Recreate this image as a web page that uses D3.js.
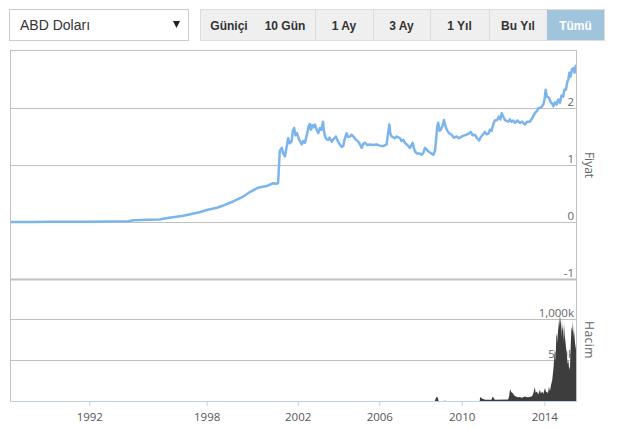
<!DOCTYPE html>
<html><head><meta charset="utf-8">
<script src="https://cdn.jsdelivr.net/npm/d3@7"></script>
<style>body{margin:0;background:#fff}svg{display:block}</style>
</head><body>
<script>
// ---- data ----
const priceDates = ["1988-01-01","1989-01-01","1990-01-01","1991-01-01","1992-01-01","1993-01-01","1994-01-01","1994-04-10","1995-01-01","1995-08-01","1996-01-01","1996-10-20","1997-08-20","1998-01-01","1998-06-15","1998-09-01","1999-03-01","1999-08-01","1999-12-01","2000-04-01","2000-08-20","2000-12-01","2001-01-15","2001-02-20",
"2001-03-05","2001-03-20","2001-04-20","2001-05-15","2001-06-10","2001-07-05","2001-08-01","2001-08-25","2001-09-25","2001-10-15","2001-11-05","2001-11-25","2001-12-20","2002-01-25","2002-03-15","2002-04-10","2002-05-10","2002-06-20","2002-07-15","2002-08-05","2002-08-25","2002-09-20","2002-10-10","2002-11-05","2002-12-05",
"2003-01-05","2003-02-05","2003-03-01","2003-03-30","2003-04-15","2003-05-05","2003-06-01","2003-07-01","2003-07-25","2003-09-01","2003-10-10","2003-11-15","2003-12-20","2004-01-25","2004-02-25","2004-03-25","2004-04-20","2004-05-25","2004-06-20","2004-07-25","2004-08-20","2004-09-25","2004-11-01","2004-12-20",
"2005-01-20","2005-02-20","2005-03-20","2005-04-20","2005-06-01","2005-07-15","2005-09-10","2005-11-15","2006-01-10","2006-03-10","2006-05-10","2006-06-05","2006-06-28","2006-07-15","2006-08-08","2006-10-01","2006-11-05","2007-01-01","2007-02-01","2007-03-01","2007-04-01","2007-05-15","2007-06-28","2007-07-25","2007-08-15","2007-09-05","2007-09-25","2007-11-01","2007-12-25",
"2008-01-20","2008-02-20","2008-03-20","2008-04-20","2008-05-15","2008-06-15","2008-07-15","2008-08-15","2008-09-15","2008-10-01","2008-10-25","2008-11-10","2008-12-05","2008-12-25","2009-01-25","2009-02-20","2009-03-15","2009-04-10","2009-05-20","2009-07-05","2009-08-15","2009-10-05","2009-11-15",
"2010-01-01","2010-02-15","2010-03-28","2010-05-01","2010-06-10","2010-07-15","2010-08-22","2010-10-01","2010-11-05","2010-12-10","2011-01-08","2011-02-15","2011-03-18","2011-04-20","2011-05-15","2011-06-15","2011-07-12","2011-08-10","2011-09-20","2011-10-20","2011-11-15","2011-12-10",
"2012-01-05","2012-02-05","2012-03-05","2012-04-05","2012-05-01","2012-06-01","2012-07-01","2012-08-01","2012-09-10","2012-10-28","2012-12-05","2013-01-25","2013-03-01","2013-04-20","2013-06-01","2013-07-18","2013-08-25","2013-09-20","2013-10-15","2013-11-15","2013-12-15",
"2014-01-05","2014-01-25","2014-02-15","2014-03-25","2014-04-25","2014-05-20","2014-06-10","2014-07-10","2014-08-08","2014-09-05","2014-10-05","2014-11-01","2014-12-02","2014-12-20","2015-01-19","2015-02-10","2015-03-03","2015-03-20","2015-04-12","2015-05-05","2015-05-30","2015-06-20","2015-07-16"];
const priceValues = [0.0013,0.0019,0.0023,0.0030,0.0053,0.0087,0.015,0.030,0.040,0.045,0.07,0.11,0.17,0.21,0.25,0.28,0.36,0.44,0.53,0.60,0.63,0.68,0.67,0.68,
0.95,1.25,1.30,1.20,1.15,1.30,1.47,1.38,1.41,1.60,1.65,1.52,1.56,1.45,1.36,1.42,1.39,1.55,1.68,1.72,1.62,1.70,1.66,1.71,1.62,
1.56,1.65,1.62,1.76,1.60,1.50,1.45,1.44,1.48,1.41,1.46,1.50,1.42,1.36,1.32,1.33,1.45,1.56,1.49,1.50,1.53,1.50,1.45,1.41,
1.36,1.30,1.37,1.39,1.35,1.36,1.35,1.36,1.34,1.33,1.36,1.55,1.71,1.55,1.50,1.47,1.50,1.47,1.42,1.44,1.39,1.35,1.30,1.35,1.39,1.30,1.24,1.20,1.20,
1.18,1.21,1.30,1.27,1.24,1.22,1.20,1.18,1.25,1.41,1.68,1.74,1.60,1.62,1.68,1.79,1.70,1.62,1.56,1.53,1.48,1.50,1.47,
1.50,1.52,1.53,1.55,1.58,1.52,1.53,1.47,1.43,1.50,1.53,1.58,1.54,1.55,1.62,1.60,1.71,1.78,1.79,1.85,1.80,1.91,
1.85,1.79,1.77,1.76,1.80,1.76,1.78,1.74,1.78,1.74,1.76,1.71,1.76,1.76,1.82,1.91,1.95,2.00,2.00,2.02,2.06,
2.15,2.32,2.20,2.18,2.10,2.08,2.03,2.10,2.06,2.15,2.09,2.22,2.20,2.32,2.32,2.45,2.50,2.62,2.55,2.68,2.70,2.62,2.76];

const volumeDates = ["2008-09-10","2008-10-05","2008-10-28","2008-11-20","2009-03-01","2009-03-10","2009-03-20","2010-11-15","2010-11-25","2011-01-10","2011-03-01","2011-06-10","2011-07-05","2011-08-10",
"2012-04-01","2012-04-20","2012-05-05","2012-05-25","2012-06-20","2012-07-15","2012-08-15","2012-09-20","2012-10-28","2012-12-01","2013-01-25","2013-03-01","2013-04-20","2013-06-01","2013-06-20","2013-07-18","2013-08-01","2013-08-25","2013-09-15","2013-10-15","2013-11-01","2013-11-25","2013-12-15",
"2014-01-12","2014-02-01","2014-02-17","2014-03-05","2014-03-25","2014-04-10","2014-05-01","2014-05-20","2014-06-10","2014-06-25","2014-07-09","2014-07-20","2014-08-01","2014-08-15","2014-08-25","2014-09-06","2014-09-15","2014-09-25","2014-10-05","2014-10-15","2014-10-23","2014-11-01","2014-11-10","2014-11-18","2014-11-28","2014-12-08","2014-12-16","2014-12-28",
"2015-01-12","2015-01-25","2015-02-06","2015-02-20","2015-03-03","2015-03-18","2015-04-01","2015-04-15","2015-04-27","2015-05-10","2015-05-23","2015-06-01","2015-06-10","2015-06-28","2015-07-16"];
const volumeValues = [0,45,50,0,0,8,0,0,48,25,16,16,56,16,
18,60,146,110,98,70,56,45,49,40,55,45,50,60,90,171,100,117,80,138,90,117,85,
159,110,113,90,174,120,199,250,382,520,626,480,780,833,700,992,850,1052,900,1030,955,780,992,860,910,720,955,800,
710,620,544,450,500,380,420,700,910,850,970,780,870,710,626];

const yearTicks = ["1992","1998","2002","2006","2010","2014"];
const priceTicks = [2,1,0,-1];
const volumeTicks = [1000,500,0];
const volumeTickLabels = ["1,000k","500k","0k"];
const buttonLabels = ["Güniçi","10 Gün","1 Ay","3 Ay","1 Yıl","Bu Yıl","Tümü"];
const currencyLabel = "ABD Doları";

// ---- setup ----
const W=620,H=428;
const svg=d3.select("body").append("svg").attr("width",W).attr("height",H);
const parse=d3.timeParse("%Y-%m-%d");
const L=10,R=576,T=51,PB=279,VT=280,B=401;

const x=d3.scaleTime()
  .domain(["1988-01-01","1992-01-01","1998-01-01","2002-01-01","2006-01-01","2010-01-01","2014-01-01","2015-07-16"].map(parse))
  .range([11,89.3,206.7,297.7,379.3,461.7,544.3,576]);
const yP=d3.scaleLinear().domain([-1,3]).range([PB,T]);
const yV=d3.scaleLinear().domain([0,1500]).range([B,278]);

const axisFont="'Open Sans', sans-serif";

// ---- top controls ----
svg.append("rect").attr("x",9.5).attr("y",9.5).attr("width",179).attr("height",31)
  .attr("fill","#fff").attr("stroke","#ccc");
svg.append("text").attr("x",20).attr("y",30).text(currencyLabel)
  .attr("font-family","Arial, 'Liberation Sans', sans-serif").attr("font-size",14).attr("fill","#333");
svg.append("path").attr("d","M173,21L180,21L176.5,28Z").attr("fill","#222");

const btnG=svg.append("g");
btnG.append("rect").attr("x",200.5).attr("y",9.5).attr("width",404).attr("height",31)
  .attr("fill","#efefef").attr("stroke","#ddd");
btnG.append("rect").attr("x",547).attr("y",10).attr("width",57).attr("height",30).attr("fill","#9fc4db");
[315,373,430,489].forEach(sx=>btnG.append("line").attr("x1",sx+0.5).attr("x2",sx+0.5).attr("y1",10).attr("y2",40).attr("stroke","#ddd"));
const btnCenters=[229,285,344,401.5,459.5,518,575.5];
buttonLabels.forEach((t,i)=>{
  btnG.append("text").attr("x",btnCenters[i]).attr("y",29.5).attr("text-anchor","middle")
    .attr("font-family","Arial, 'Liberation Sans', sans-serif").attr("font-weight","bold").attr("font-size",12)
    .attr("fill",i===6?"#fff":"#333").text(t);
});

// ---- gridlines ----
const grid=svg.append("g");
priceTicks.forEach(v=>{
  grid.append("line").attr("x1",L).attr("x2",R).attr("y1",Math.round(yP(v))+0.5).attr("y2",Math.round(yP(v))+0.5)
    .attr("stroke","#c0c0c0").attr("stroke-width",v===-1?2:1);
});
volumeTicks.filter(v=>v>0).forEach(v=>{
  grid.append("line").attr("x1",L).attr("x2",R).attr("y1",Math.round(yV(v))+0.5).attr("y2",Math.round(yV(v))+0.5)
    .attr("stroke","#c0c0c0");
});
grid.append("line").attr("x1",L).attr("x2",R+1).attr("y1",T-0.5).attr("y2",T-0.5).attr("stroke","#c0c0c0");
grid.append("line").attr("x1",L+0.5).attr("x2",L+0.5).attr("y1",T-1).attr("y2",B).attr("stroke","#c0c0c0");
grid.append("line").attr("x1",R+0.5).attr("x2",R+0.5).attr("y1",T-1).attr("y2",B).attr("stroke","#c0c0c0");

// ---- axis value labels ----
priceTicks.forEach(v=>{
  svg.append("text").attr("x",574).attr("y",yP(v)-2).attr("text-anchor","end")
    .attr("font-family",axisFont).attr("font-size",11.5).attr("fill","#666").text(String(v));
});
volumeTicks.forEach((v,i)=>{
  svg.append("text").attr("x",574).attr("y",yV(v)-2).attr("text-anchor","end")
    .attr("font-family",axisFont).attr("font-size",11.5).attr("fill","#666").text(volumeTickLabels[i]);
});

// ---- clip paths ----
const defs=svg.append("defs");
defs.append("clipPath").attr("id","cp").append("rect").attr("x",L+1).attr("y",T).attr("width",R-L-1).attr("height",PB-T);
defs.append("clipPath").attr("id","cv").append("rect").attr("x",L+1).attr("y",VT).attr("width",R-L-1).attr("height",B-VT);

// ---- price line ----
const priceData=priceDates.map((d,i)=>({d:parse(d),v:priceValues[i]}));
svg.append("path").datum(priceData).attr("clip-path","url(#cp)")
  .attr("d",d3.line().x(p=>x(p.d)).y(p=>yP(p.v)))
  .attr("fill","none").attr("stroke","#7cb5ec").attr("stroke-width",2.5).attr("stroke-linejoin","round");

// ---- volume area ----
const volData=volumeDates.map((d,i)=>({d:parse(d),v:volumeValues[i]}));
svg.append("path").datum(volData).attr("clip-path","url(#cv)")
  .attr("d",d3.area().x(p=>x(p.d)).y0(yV(0)).y1(p=>yV(p.v)))
  .attr("fill","#3d3d3d");

// ---- x axis ----
const xa=svg.append("g").attr("transform",`translate(0,${B})`)
  .call(d3.axisBottom(x).tickValues(yearTicks.map(y=>parse(y+"-01-01"))).tickFormat(d3.timeFormat("%Y")).tickSize(5).tickPadding(7));
xa.select(".domain").attr("d",`M${L},0.5H${R+1}`).attr("stroke","#c0d0e0");
xa.selectAll(".tick line").attr("stroke","#c0d0e0");
xa.selectAll(".tick text").attr("font-family",axisFont).attr("font-size",11.5).attr("fill","#555");

// ---- axis titles ----
svg.append("text").attr("transform","translate(589,165) rotate(90)").attr("text-anchor","middle").attr("dy","0.35em")
  .attr("font-family",axisFont).attr("font-size",12).attr("fill","#666").text("Fiyat");
svg.append("text").attr("transform","translate(589,340) rotate(90)").attr("text-anchor","middle").attr("dy","0.35em")
  .attr("font-family",axisFont).attr("font-size",12).attr("fill","#666").attr("letter-spacing",0.5).text("Hacim");
</script>
</body></html>
